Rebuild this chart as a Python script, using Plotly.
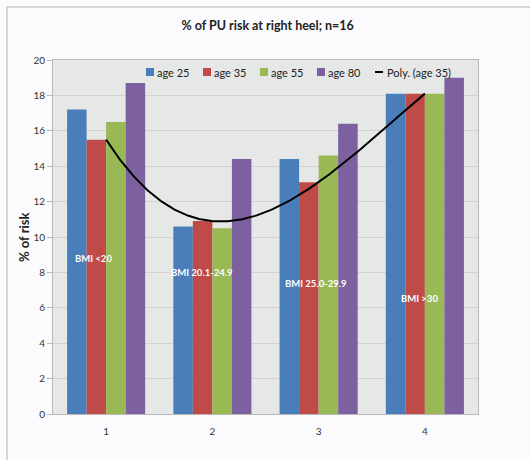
import numpy as np
import plotly.graph_objects as go

categories = [1, 2, 3, 4]
age25 = [17.2, 10.6, 14.4, 18.1]
age35 = [15.5, 10.9, 13.1, 18.1]
age55 = [16.5, 10.5, 14.6, 18.1]
age80 = [18.7, 14.4, 16.4, 19.0]
bmi_labels = ["BMI <20", "BMI 20.1-24.9", "BMI 25.0-29.9", "BMI >30"]
y_ticks = list(range(0, 21, 2))

series = [
    ("age 25", age25, "#4A7EBB"),
    ("age 35", age35, "#BE4B48"),
    ("age 55", age55, "#98B954"),
    ("age 80", age80, "#7D60A0"),
]

FONT = "Lato"

# plot area in pixels (used for placing the hand-built legend)
W, H = 530, 460
ML, MR, MT, MB = 53, 52, 60, 46
PW, PH = W - ML - MR, H - MT - MB


def px_x(px):
    return (px - ML) / PW


def px_y(py):
    return (H - MB - py) / PH


fig = go.Figure()
for name, vals, col in series:
    fig.add_trace(go.Bar(x=categories, y=vals, name=name, showlegend=False,
                         marker=dict(color=col, line=dict(width=0))))

# polynomial trendline of the age 35 series
coef = np.polyfit(categories, age35, 3)
xs = np.linspace(categories[0], categories[-1], 200)
fig.add_trace(go.Scatter(x=xs, y=np.polyval(coef, xs), mode="lines",
                         name="Poly. (age 35)", showlegend=False,
                         line=dict(color="black", width=2)))

# in-bar BMI labels
label_pos = [(0.88, 8.76), (1.90, 7.97), (2.975, 7.4), (3.95, 6.55)]
for txt, (ax, ay) in zip(bmi_labels, label_pos):
    fig.add_annotation(x=ax, y=ay, text="<b>" + txt + "</b>", showarrow=False,
                       font=dict(family=FONT, size=9.5, color="white"))

# legend row along the top of the plot area
legend_y = 72
legend_x = [146, 203, 260, 317]
for (name, _, col), lx in zip(series, legend_x):
    fig.add_shape(type="rect", xref="paper", yref="paper",
                  x0=px_x(lx), x1=px_x(lx + 8),
                  y0=px_y(legend_y + 4), y1=px_y(legend_y - 4),
                  fillcolor=col, line=dict(width=0))
    fig.add_annotation(xref="paper", yref="paper", x=px_x(lx + 9), y=px_y(legend_y),
                       xanchor="left", yanchor="middle", showarrow=False, text=name,
                       font=dict(family=FONT, size=11, color="#222222"))
fig.add_shape(type="line", xref="paper", yref="paper",
              x0=px_x(375), x1=px_x(383), y0=px_y(legend_y), y1=px_y(legend_y),
              line=dict(color="black", width=2))
fig.add_annotation(xref="paper", yref="paper", x=px_x(385), y=px_y(legend_y),
                   xanchor="left", yanchor="middle", showarrow=False,
                   text="Poly. (age 35)",
                   font=dict(family=FONT, size=11, color="#222222"))

# y axis title
fig.add_annotation(xref="paper", yref="paper", x=px_x(24), y=px_y(237),
                   xanchor="center", yanchor="middle", showarrow=False,
                   textangle=-90, text="<b>% of risk</b>",
                   font=dict(family=FONT, size=13, color="#222222"))

# outer chart frame (top and left edges)
fig.add_shape(type="line", xref="paper", yref="paper",
              x0=px_x(7), x1=px_x(540), y0=px_y(7), y1=px_y(7),
              line=dict(color="#C8C8C8", width=1.5))
fig.add_shape(type="line", xref="paper", yref="paper",
              x0=px_x(7), x1=px_x(7), y0=px_y(470), y1=px_y(7),
              line=dict(color="#C8C8C8", width=1.5))

fig.update_layout(
    width=W, height=H,
    margin=dict(l=ML, r=MR, t=MT, b=MB),
    paper_bgcolor="#FBFBFD",
    plot_bgcolor="#E6E8E8",
    barmode="group",
    bargap=0.265,
    bargroupgap=0,
    font=dict(family=FONT, size=11, color="#333333"),
    title=dict(text="<b>% of PU risk at right heel; n=16</b>",
               xref="container", x=0.505, xanchor="center",
               y=0.945, yanchor="middle",
               font=dict(family=FONT, size=12.5, color="#222222")),
    showlegend=False,
)
fig.update_xaxes(range=[0.5, 4.5], tickvals=categories,
                 ticktext=[str(c) for c in categories],
                 showgrid=False, zeroline=False,
                 showline=True, linecolor="#B8B8B8", linewidth=1, mirror=True,
                 tickfont=dict(family=FONT, size=10, color="#333333"),
                 ticks="", ticklabelstandoff=8)
fig.update_yaxes(range=[0, 20], tickvals=y_ticks,
                 showgrid=True, gridcolor="#D9CFCF", gridwidth=1,
                 zeroline=False,
                 showline=True, linecolor="#B8B8B8", linewidth=1, mirror=True,
                 ticks="outside", ticklen=5, tickcolor="#B8B8B8",
                 tickfont=dict(family=FONT, size=10, color="#333333"))

fig.write_html("out.html")
